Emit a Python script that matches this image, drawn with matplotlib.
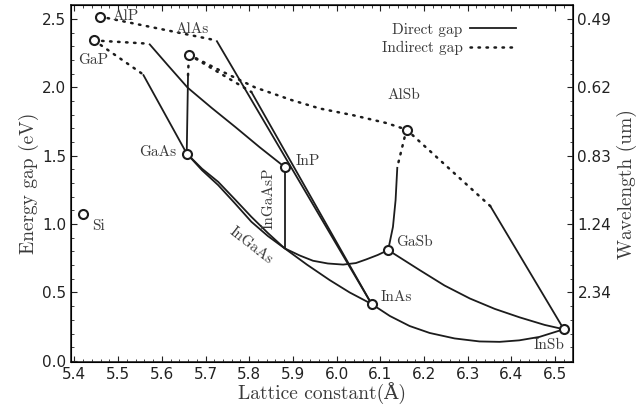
import matplotlib.pyplot as plt
from matplotlib.ticker import AutoMinorLocator, FixedLocator
from matplotlib.lines import Line2D

# binary compounds: lattice constant (A) and band gap (eV)
names = ['AlP', 'GaP', 'AlAs', 'GaAs', 'InP', 'AlSb', 'GaSb', 'InAs', 'InSb', 'Si']
lat = [5.458, 5.445, 5.662, 5.657, 5.881, 6.160, 6.118, 6.080, 6.520, 5.420]
gap = [2.518, 2.343, 2.239, 1.516, 1.418, 1.691, 0.810, 0.416, 0.231, 1.073]

# direct gap branches (lattice, gap)
alp_inas_a = [5.725, 6.080]
alp_inas_e = [2.343, 0.416]
alas_inas_a = [5.805, 6.080]
alas_inas_e = [1.966, 0.416]
gap_inp_a = [5.571, 5.614, 5.659, 5.714, 5.769, 5.824, 5.881]
gap_inp_e = [2.319, 2.161, 1.998, 1.850, 1.708, 1.562, 1.418]
gap_gaas_a = [5.557, 5.657]
gap_gaas_e = [2.095, 1.516]
gaas_alas_a = [5.657, 5.660]
gaas_alas_e = [1.516, 2.088]
ingaasp_a = [5.881, 5.881]
ingaasp_e = [1.418, 0.823]
ingaas_a = [5.657, 5.692, 5.729, 5.767, 5.805, 5.843, 5.881, 5.932, 5.984, 6.030, 6.080]
ingaas_e = [1.516, 1.394, 1.285, 1.153, 1.017, 0.912, 0.823, 0.704, 0.591, 0.500, 0.416]
gaassb_a = [5.657, 5.692, 5.729, 5.767, 5.805, 5.843, 5.881, 5.916, 5.946, 5.980,
            6.015, 6.044, 6.068, 6.094, 6.118]
gaassb_e = [1.516, 1.405, 1.309, 1.182, 1.053, 0.934, 0.823, 0.770, 0.732, 0.712,
            0.704, 0.715, 0.742, 0.774, 0.810]
alsb_gasb_a = [6.139, 6.135, 6.129, 6.118]
alsb_gasb_e = [1.418, 1.175, 0.980, 0.810]
alsb_insb_a = [6.352, 6.520]
alsb_insb_e = [1.131, 0.231]
gasb_insb_a = [6.118, 6.190, 6.247, 6.305, 6.362, 6.419, 6.476, 6.520]
gasb_insb_e = [0.810, 0.664, 0.551, 0.456, 0.380, 0.318, 0.263, 0.231]
inas_insb_a = [6.080, 6.122, 6.167, 6.213, 6.270, 6.327, 6.373, 6.418, 6.464, 6.520]
inas_insb_e = [0.416, 0.328, 0.255, 0.204, 0.164, 0.142, 0.139, 0.150, 0.175, 0.231]

# indirect gap branches
alp_ind_a = [5.458, 5.725]
alp_ind_e = [2.518, 2.343]
alas_ind_a = [5.662, 5.805]
alas_ind_e = [2.239, 1.966]
gap_ind1_a = [5.445, 5.571]
gap_ind1_e = [2.343, 2.319]
gap_ind2_a = [5.445, 5.557]
gap_ind2_e = [2.343, 2.095]
algaas_ind_a = [5.660, 5.662]
algaas_ind_e = [2.088, 2.239]
alassb_a = [5.662, 5.733, 5.813, 5.897, 5.962, 6.038, 6.114, 6.160]
alassb_e = [2.239, 2.124, 2.000, 1.907, 1.845, 1.796, 1.739, 1.691]
alsb_ind1_a = [6.160, 6.139]
alsb_ind1_e = [1.691, 1.418]
alsb_ind2_a = [6.160, 6.352]
alsb_ind2_e = [1.691, 1.131]

xticks = [5.4, 5.5, 5.6, 5.7, 5.8, 5.9, 6.0, 6.1, 6.2, 6.3, 6.4, 6.5]
yticks = [0.0, 0.5, 1.0, 1.5, 2.0, 2.5]
wl_ticks = [0.5, 1.0, 1.5, 2.0, 2.5]
wl_labels = ['2.34', '1.24', '0.83', '0.62', '0.49']

serif = ['cmr10', 'DejaVu Serif', 'DejaVu Sans']
lc = '#1c1c1c'
tc = '#3a3a3a'

fig = plt.figure(figsize=(6.39, 4.07), dpi=100)
ax = fig.add_axes([0.111, 0.110, 0.785, 0.877])

direct = [(alp_inas_a, alp_inas_e), (alas_inas_a, alas_inas_e), (gap_inp_a, gap_inp_e),
          (gap_gaas_a, gap_gaas_e), (gaas_alas_a, gaas_alas_e), (ingaasp_a, ingaasp_e),
          (ingaas_a, ingaas_e), (gaassb_a, gaassb_e), (alsb_gasb_a, alsb_gasb_e),
          (alsb_insb_a, alsb_insb_e), (gasb_insb_a, gasb_insb_e), (inas_insb_a, inas_insb_e)]
indirect = [(alp_ind_a, alp_ind_e), (alas_ind_a, alas_ind_e), (gap_ind1_a, gap_ind1_e),
            (gap_ind2_a, gap_ind2_e), (algaas_ind_a, algaas_ind_e), (alassb_a, alassb_e),
            (alsb_ind1_a, alsb_ind1_e), (alsb_ind2_a, alsb_ind2_e)]

for a, e in direct:
    ax.plot(a, e, color=lc, lw=1.3, solid_capstyle='butt')
for a, e in indirect:
    ax.plot(a, e, color=lc, lw=1.8, ls=(0, (0.6, 2.6)), dash_capstyle='round')

ax.plot(lat, gap, 'o', ms=6.5, mfc='white', mec=lc, mew=1.5, zorder=5)

# compound labels
lab_kw = dict(family=serif, fontsize=11, color=tc)
ax.text(5.488, 2.518, 'AlP', ha='left', va='center', **lab_kw)
ax.text(5.669, 2.423, 'AlAs', ha='center', va='center', **lab_kw)
ax.text(5.444, 2.197, 'GaP', ha='center', va='center', **lab_kw)
ax.text(5.632, 1.523, 'GaAs', ha='right', va='center', **lab_kw)
ax.text(5.906, 1.462, 'InP', ha='left', va='center', **lab_kw)
ax.text(5.844, 1.188, 'InGaAsP', ha='center', va='center', rotation=90, **lab_kw)
ax.text(5.804, 0.839, 'InGaAs', ha='center', va='center', rotation=-38, **lab_kw)
ax.text(6.179, 0.866, 'GaSb', ha='center', va='center', **lab_kw)
ax.text(6.137, 0.465, 'InAs', ha='center', va='center', **lab_kw)
ax.text(6.486, 0.112, 'InSb', ha='center', va='center', **lab_kw)
ax.text(6.154, 1.942, 'AlSb', ha='center', va='center', **lab_kw)
ax.text(5.456, 0.985, 'Si', ha='center', va='center', **lab_kw)

handles = [Line2D([], [], color=lc, lw=1.3),
           Line2D([], [], color=lc, lw=1.8, ls=(0, (0.6, 2.6)), dash_capstyle='round')]
leg = ax.legend(handles, ['Direct gap', 'Indirect gap'], loc='upper right',
                bbox_to_anchor=(0.915, 0.99), frameon=False, markerfirst=False,
                handlelength=3.0, handletextpad=0.5, labelspacing=0.3,
                prop={'family': serif, 'size': 11})
for t in leg.get_texts():
    t.set_color(tc)

ax.set_xlim(5.392, 6.54)
ax.set_ylim(-0.01, 2.6)
ax.set_xticks(xticks)
ax.set_yticks(yticks)
ax.xaxis.set_minor_locator(AutoMinorLocator(5))
ax.yaxis.set_minor_locator(AutoMinorLocator(5))
ax.tick_params(which='both', direction='in', top=True, labelsize=11, colors='#222222')
ax.tick_params(which='major', length=4.5)
ax.tick_params(which='minor', length=2.5)
for s in ax.spines.values():
    s.set_linewidth(1.2)
    s.set_color('#222222')

ax.set_xlabel('Lattice constant(Å)', family=serif, fontsize=14, color=tc, labelpad=1)
ax.set_ylabel('Energy gap (eV)', family=serif, fontsize=14, color=tc, labelpad=2)

ax2 = ax.twinx()
ax2.set_ylim(ax.get_ylim())
ax2.yaxis.set_major_locator(FixedLocator(wl_ticks))
ax2.set_yticklabels(wl_labels)
ax2.yaxis.set_minor_locator(AutoMinorLocator(5))
ax2.tick_params(which='both', direction='in', labelsize=11, colors='#222222')
ax2.tick_params(which='major', length=4.5)
ax2.tick_params(which='minor', length=2.5)
ax2.set_ylabel('Wavelength (um)', family=serif, fontsize=14, color=tc, labelpad=4)

fig.savefig('out.png', dpi=100)
